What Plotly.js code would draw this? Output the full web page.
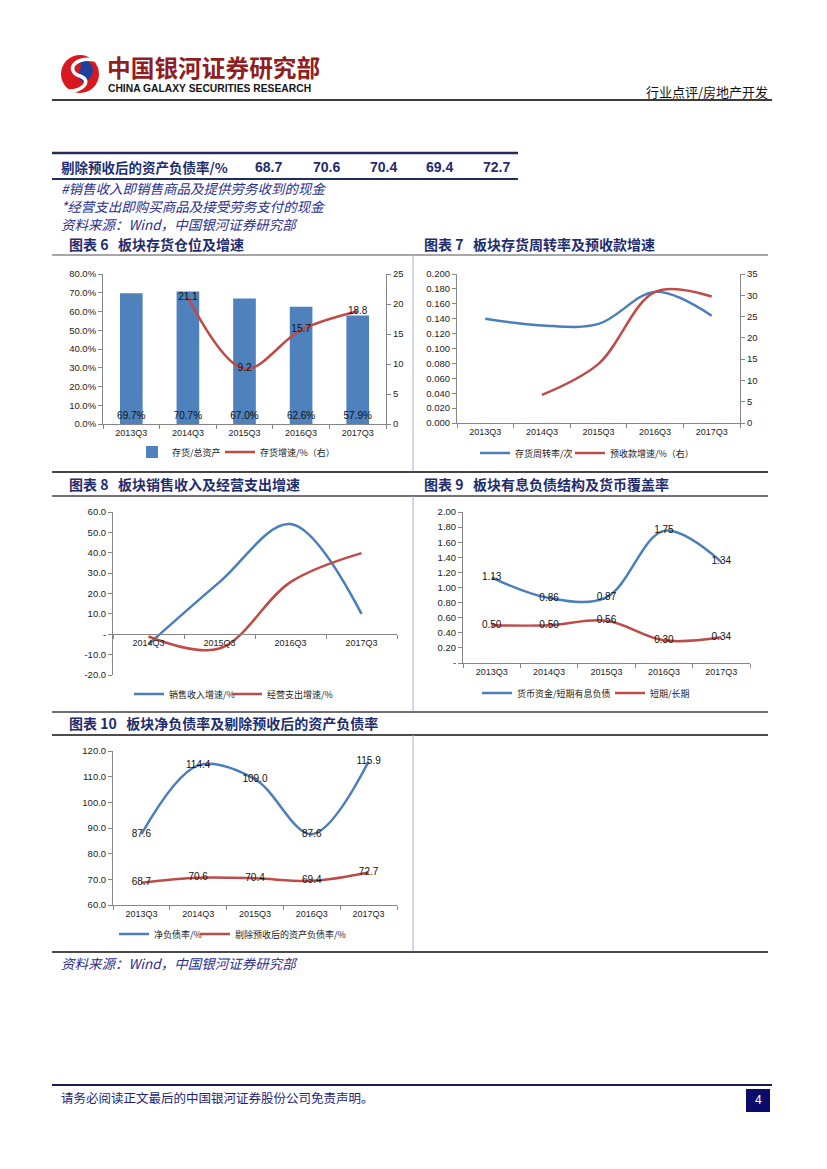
<!DOCTYPE html>
<html><head><meta charset="utf-8">
<script src="https://cdn.plot.ly/plotly-3.0.1.min.js"></script>
<style>html,body{margin:0;padding:0;background:#fff;}#chart{width:827px;height:1169px;}</style>
</head><body><div id="chart"></div>
<script>
// ---------- DATA ----------
const quarters5 = ['2013Q3','2014Q3','2015Q3','2016Q3','2017Q3'];
const quarters4 = ['2014Q3','2015Q3','2016Q3','2017Q3'];
const tableLabel = '剔除预收后的资产负债率/%';
const tableValues = [68.7, 70.6, 70.4, 69.4, 72.7];
// 图表6
const invShare = [0.697, 0.707, 0.670, 0.626, 0.579];
const invGrowth = [null, 21.1, 9.2, 15.7, 18.8];
// 图表7
const invTurnover = [0.140, 0.131, 0.133, 0.176, 0.144];
const advGrowth = [null, 6.6, 13.9, 30.8, 29.7];
// 图表8
const salesGrowth = [-4.9, 25.6, 54.1, 10.0];
const opexGrowth = [-1.1, -7.0, 25.6, 39.8];
// 图表9
const cashCover = [1.13, 0.86, 0.87, 1.75, 1.34];
const shortLong = [0.50, 0.50, 0.56, 0.30, 0.34];
// 图表10
const netDebt = [87.6, 114.4, 109.0, 87.6, 115.9];
const adjDebt = [68.7, 70.6, 70.4, 69.4, 72.7];
const axis8Ticks = [-20, -10, 0, 10, 20, 30, 40, 50, 60];
const axis9Ticks = [0, 0.2, 0.4, 0.6, 0.8, 1.0, 1.2, 1.4, 1.6, 1.8, 2.0];

// ---------- HELPERS ----------
const W = 827, H = 1169;
const px = x => x / W, py = y => 1 - y / H;
const CJK = '"Noto Sans CJK SC", sans-serif';
const NUM = '"Liberation Sans", Arial, sans-serif';
const BLUE = '#4a7ebb', RED = '#be4b48', BAR = '#4f81bd', AX = '#868686';
const NAVY = '#1f2d6e', NOTE = '#2b2f8f';
const SP = '\u00a0';

function baseAxis(extra) {
  return Object.assign({showgrid:false, zeroline:false, showline:true, linecolor:AX, linewidth:1,
    ticks:'outside', ticklen:4, tickwidth:1, tickcolor:AX,
    tickfont:{family:NUM, size:9.5, color:'#222'}, fixedrange:true, automargin:false}, extra);
}
function catAxis(n, extra) {
  return baseAxis(Object.assign({type:'category', tickson:'boundaries', range:[-0.5, n - 0.5],
    tickfont:{family:NUM, size:9, color:'#222'}}, extra));
}
function lineTrace(x, y, color, name, xa, ya, leg, labels) {
  const t = {type:'scatter', x:x, y:y, xaxis:xa, yaxis:ya, name:name, legend:leg,
    mode: labels ? 'lines+text' : 'lines',
    line:{color:color, width:2.5, shape:'spline', smoothing:1},
    cliponaxis:false, hoverinfo:'skip'};
  if (labels) {
    t.text = labels; t.textposition = 'middle center';
    t.textfont = {family:NUM, size:10, color:'#111'};
  }
  return t;
}
// textStart: x where the legend label text begins in the reference
function legendAt(textStart, yc) {
  return {x:px(textStart - 38), y:py(yc), xanchor:'left', yanchor:'middle', orientation:'h',
    bgcolor:'rgba(0,0,0,0)', borderwidth:0, itemwidth:30,
    font:{family:CJK, size:9, color:'#222'}, itemclick:false, itemdoubleclick:false};
}
const fmt = d => v => (v == null ? '' : v.toFixed(d));

// ---------- TRACES ----------
const traces = [
  {type:'bar', x:quarters5, y:invShare, xaxis:'x', yaxis:'y', name:'存货/总资产', legend:'legend',
   marker:{color:BAR}, width:0.4, text:invShare.map(v => (v*100).toFixed(1) + '%'),
   textposition:'inside', insidetextanchor:'start', textangle:0, constraintext:'none',
   insidetextfont:{family:NUM, size:10, color:'#111'}, cliponaxis:false, hoverinfo:'skip'},
  lineTrace(quarters5, invGrowth, RED, '存货增速/%（右）', 'x', 'y2', 'legend2', invGrowth.map(fmt(1))),
  lineTrace(quarters5, invTurnover, BLUE, '存货周转率/次', 'x2', 'y3', 'legend3'),
  lineTrace(quarters5, advGrowth, RED, '预收款增速/%（右）', 'x2', 'y4', 'legend4'),
  lineTrace(quarters4, salesGrowth, BLUE, '销售收入增速/%', 'x3', 'y5', 'legend5'),
  lineTrace(quarters4, opexGrowth, RED, '经营支出增速/%', 'x3', 'y5', 'legend6'),
  lineTrace(quarters5, cashCover, BLUE, '货币资金/短期有息负债', 'x4', 'y6', 'legend7', cashCover.map(fmt(2))),
  lineTrace(quarters5, shortLong, RED, '短期/长期', 'x4', 'y6', 'legend8', shortLong.map(fmt(2))),
  lineTrace(quarters5, netDebt, BLUE, '净负债率/%', 'x5', 'y7', 'legend9', netDebt.map(fmt(1))),
  lineTrace(quarters5, adjDebt, RED, '剔除预收后的资产负债率/%', 'x5', 'y7', 'legend10', adjDebt.map(fmt(1)))
];

// ---------- SHAPES ----------
function hline(y, x0, x1, color, w) {
  return {type:'line', xref:'paper', yref:'paper', x0:px(x0), x1:px(x1), y0:py(y), y1:py(y), line:{color:color, width:w}};
}
function vline(x, y0, y1, color, w) {
  return {type:'line', xref:'paper', yref:'paper', x0:px(x), x1:px(x), y0:py(y0), y1:py(y1), line:{color:color, width:w}};
}
function pth(cmds) {
  return cmds.map(c => c[0] + ' ' + c.slice(1).map((v, i) => (i % 2 === 0 ? px(v) : py(v)).toFixed(5)).join(' ')).join(' ');
}
const shapes = [
  // logo
  {type:'circle', xref:'paper', yref:'paper', x0:px(61), x1:px(99), y0:py(93), y1:py(55), fillcolor:'#d7191f', line:{width:0}},
  {type:'path', xref:'paper', yref:'paper', path:pth([['M',78,60],['C',92,58,98,72,88,80],['C',82,85,76,78,80,70],['C',82,65,80,61,78,60],['Z']]), fillcolor:'#1f3f9a', line:{width:0}},
  {type:'path', xref:'paper', yref:'paper', path:pth([['M',95,60],['C',72,56,66,72,80,76],['C',92,80,84,92,66,91]]), line:{color:'#ffffff', width:3.5}},
  hline(100, 52, 772, '#3c3c3c', 2),
  hline(153, 52, 518, '#1f2d5a', 2.5),
  hline(179, 52, 518, '#1f2d5a', 2),
  hline(255, 52, 768, '#8a8a8a', 1.5),
  vline(413, 255, 472, '#9fb0c8', 1),
  hline(472, 52, 768, '#454545', 2),
  hline(496, 52, 768, '#454545', 1.5),
  vline(413, 496, 712, '#9fb0c8', 1),
  hline(712, 52, 768, '#6f6f6f', 2),
  hline(735, 52, 768, '#111111', 1.5),
  vline(413, 735, 952, '#9fb0c8', 1),
  hline(952, 52, 768, '#4a4a4a', 2),
  hline(1085, 52, 772, '#1a1a5e', 2),
  {type:'rect', xref:'paper', yref:'paper', x0:px(746), x1:px(770), y0:py(1112), y1:py(1089), fillcolor:'#0b0b6b', line:{width:0}}
];

// ---------- ANNOTATIONS ----------
function txt(text, x, y, size, color, opts) {
  return Object.assign({text:text, x:px(x), y:py(y), xref:'paper', yref:'paper', showarrow:false,
    xanchor:'left', yanchor:'middle', font:{family:CJK, size:size, color:color}}, opts || {});
}
const tableX = [268, 326, 383, 439, 496];
const annotations = [
  txt('<b>中国银河证券研究部</b>', 105, 67, 23.7, '#8f1d21'),
  txt('<b>CHINA GALAXY SECURITIES RESEARCH</b>', 106, 88, 10.3, '#151515', {font:{family:NUM, size:10.3, color:'#151515'}}),
  txt('行业点评/房地产开发', 770, 91, 13, '#111', {xanchor:'right'}),
  txt('<b>' + tableLabel + '</b>', 59, 167, 13.5, NAVY),
  ...tableValues.map((v, i) => txt('<b>' + v.toFixed(1) + '</b>', tableX[i], 167, 13, NAVY, {xanchor:'center', font:{family:NUM, size:14, color:NAVY}})),
  txt('<i>#销售收入即销售商品及提供劳务收到的现金</i>', 59, 188, 13.5, NOTE),
  txt('<i>*经营支出即购买商品及接受劳务支付的现金</i>', 59, 206, 13.5, NOTE),
  txt('<i>资料来源：Wind，中国银河证券研究部</i>', 59, 224, 13.5, NOTE),
  txt('<b>图表' + SP + '6' + SP + SP + SP + '板块存货仓位及增速</b>', 67, 244, 14, NAVY),
  txt('<b>图表' + SP + '7' + SP + SP + SP + '板块存货周转率及预收款增速</b>', 422, 244, 14, NAVY),
  txt('<b>图表' + SP + '8' + SP + SP + SP + '板块销售收入及经营支出增速</b>', 67, 484, 14, NAVY),
  txt('<b>图表' + SP + '9' + SP + SP + SP + '板块有息负债结构及货币覆盖率</b>', 422, 484, 14, NAVY),
  txt('<b>图表' + SP + '10' + SP + SP + SP + '板块净负债率及剔除预收后的资产负债率</b>', 67, 723, 14, NAVY),
  txt('<i>资料来源：Wind，中国银河证券研究部</i>', 59, 963, 13.5, NOTE),
  txt('请务必阅读正文最后的中国银河证券股份公司免责声明。', 59, 1097, 12.5, '#1e1e7a'),
  txt('4', 758, 1100, 12, '#ffffff', {xanchor:'center', font:{family:NUM, size:12, color:'#fff'}})
];

// ---------- LAYOUT ----------
const layout = {
  width:W, height:H, margin:{l:0, r:0, t:0, b:0}, paper_bgcolor:'#fff', plot_bgcolor:'rgba(0,0,0,0)',
  showlegend:true, hovermode:false,
  xaxis: catAxis(5, {domain:[px(103), px(386)], anchor:'y'}),
  yaxis: baseAxis({domain:[py(424), py(274)], anchor:'x', range:[0, 0.8], dtick:0.1, tick0:0, tickformat:'.1%'}),
  yaxis2: baseAxis({overlaying:'y', side:'right', anchor:'x', range:[0, 25], dtick:5, tick0:0}),
  xaxis2: catAxis(5, {domain:[px(457), px(740)], anchor:'y3'}),
  yaxis3: baseAxis({domain:[py(423), py(274)], anchor:'x2', range:[0, 0.2], dtick:0.02, tick0:0, tickformat:'.3f'}),
  yaxis4: baseAxis({overlaying:'y3', side:'right', anchor:'x2', range:[0, 35], dtick:5, tick0:0}),
  xaxis3: catAxis(4, {domain:[px(113), px(397)], anchor:'free', position:py(634.25)}),
  yaxis5: baseAxis({domain:[py(675), py(512)], anchor:'x3', range:[-20, 60], tickvals:axis8Ticks,
    ticktext:axis8Ticks.map(v => v === 0 ? '-' : v.toFixed(1))}),
  xaxis4: catAxis(5, {domain:[px(463), px(750)], anchor:'y6'}),
  yaxis6: baseAxis({domain:[py(663), py(512)], anchor:'x4', range:[0, 2], tickvals:axis9Ticks,
    ticktext:axis9Ticks.map(v => v === 0 ? '-' : v.toFixed(2))}),
  xaxis5: catAxis(5, {domain:[px(113), px(397)], anchor:'y7'}),
  yaxis7: baseAxis({domain:[py(905), py(751)], anchor:'x5', range:[60, 120], dtick:10, tick0:60, tickformat:'.1f'}),
  legend: legendAt(170, 452), legend2: legendAt(258, 452),
  legend3: legendAt(513, 453), legend4: legendAt(608, 453),
  legend5: legendAt(167, 694), legend6: legendAt(265, 694),
  legend7: legendAt(515, 693), legend8: legendAt(648, 693),
  legend9: legendAt(152, 934), legend10: legendAt(233, 934),
  shapes: shapes, annotations: annotations
};

Plotly.newPlot('chart', traces, layout, {staticPlot:true, displayModeBar:false});
</script></body></html>
